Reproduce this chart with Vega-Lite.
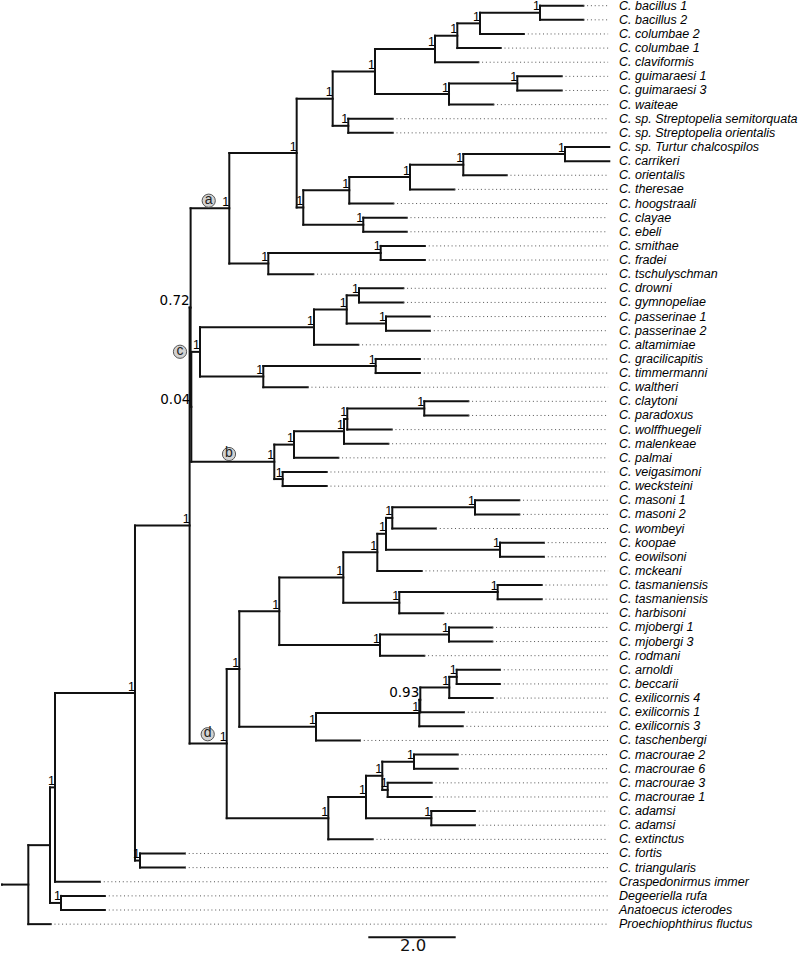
{
  "$schema": "https://vega.github.io/schema/vega-lite/v6.json",
  "width": 798,
  "height": 954,
  "padding": 0,
  "autosize": {"type": "none"},
  "background": "white",
  "config": {"view": {"stroke": null}},
  "datasets": {
    "nodes": [
      {"id": "L0", "parent": "BR", "x": 13.332, "y": 0, "name": "C. bacillus 1"},
      {"id": "L1", "parent": "BR", "x": 13.332, "y": 1, "name": "C. bacillus 2"},
      {"id": "L2", "parent": "BQ", "x": 11.975, "y": 2, "name": "C. columbae 2"},
      {"id": "L3", "parent": "BP", "x": 11.442, "y": 3, "name": "C. columbae 1"},
      {"id": "L4", "parent": "BM", "x": 10.929, "y": 4, "name": "C. claviformis"},
      {"id": "L5", "parent": "BO", "x": 12.838, "y": 5, "name": "C. guimaraesi 1"},
      {"id": "L6", "parent": "BO", "x": 12.838, "y": 6, "name": "C. guimaraesi 3"},
      {"id": "L7", "parent": "BN", "x": 11.272, "y": 7, "name": "C. waiteae"},
      {"id": "L8", "parent": "BL", "x": 8.970, "y": 8, "name": "C. sp. Streptopelia semitorquata"},
      {"id": "L9", "parent": "BL", "x": 8.970, "y": 9, "name": "C. sp. Streptopelia orientalis"},
      {"id": "L10", "parent": "BH", "x": 13.927, "y": 10, "name": "C. sp. Turtur chalcospilos"},
      {"id": "L11", "parent": "BH", "x": 13.927, "y": 11, "name": "C. carrikeri"},
      {"id": "L12", "parent": "BF", "x": 11.579, "y": 12, "name": "C. orientalis"},
      {"id": "L13", "parent": "BG", "x": 10.380, "y": 13, "name": "C. theresae"},
      {"id": "L14", "parent": "BD", "x": 8.984, "y": 14, "name": "C. hoogstraali"},
      {"id": "L15", "parent": "BI", "x": 9.291, "y": 15, "name": "C. clayae"},
      {"id": "L16", "parent": "BI", "x": 9.291, "y": 16, "name": "C. ebeli"},
      {"id": "L17", "parent": "BS", "x": 9.709, "y": 17, "name": "C. smithae"},
      {"id": "L18", "parent": "BS", "x": 9.709, "y": 18, "name": "C. fradei"},
      {"id": "L19", "parent": "BB", "x": 7.153, "y": 19, "name": "C. tschulyschman"},
      {"id": "L20", "parent": "CD", "x": 9.213, "y": 20, "name": "C. drowni"},
      {"id": "L21", "parent": "CD", "x": 9.213, "y": 21, "name": "C. gymnopeliae"},
      {"id": "L22", "parent": "CE", "x": 9.824, "y": 22, "name": "C. passerinae 1"},
      {"id": "L23", "parent": "CE", "x": 9.824, "y": 23, "name": "C. passerinae 2"},
      {"id": "L24", "parent": "CA", "x": 8.183, "y": 24, "name": "C. altamimiae"},
      {"id": "L25", "parent": "CF", "x": 9.595, "y": 25, "name": "C. gracilicapitis"},
      {"id": "L26", "parent": "CF", "x": 9.595, "y": 26, "name": "C. timmermanni"},
      {"id": "L27", "parent": "CB", "x": 7.025, "y": 27, "name": "C. waltheri"},
      {"id": "L28", "parent": "DE", "x": 10.700, "y": 28, "name": "C. claytoni"},
      {"id": "L29", "parent": "DE", "x": 10.700, "y": 29, "name": "C. paradoxus"},
      {"id": "L30", "parent": "DD", "x": 8.947, "y": 30, "name": "C. wolffhuegeli"},
      {"id": "L31", "parent": "DC", "x": 8.870, "y": 31, "name": "C. malenkeae"},
      {"id": "L32", "parent": "DA", "x": 7.725, "y": 32, "name": "C. palmai"},
      {"id": "L33", "parent": "DB", "x": 7.460, "y": 33, "name": "C. veigasimoni"},
      {"id": "L34", "parent": "DB", "x": 7.460, "y": 34, "name": "C. wecksteini"},
      {"id": "L35", "parent": "Z", "x": 11.867, "y": 35, "name": "C. masoni 1"},
      {"id": "L36", "parent": "Z", "x": 11.867, "y": 36, "name": "C. masoni 2"},
      {"id": "L37", "parent": "V", "x": 9.961, "y": 37, "name": "C. wombeyi"},
      {"id": "L38", "parent": "W", "x": 12.432, "y": 38, "name": "C. koopae"},
      {"id": "L39", "parent": "W", "x": 12.432, "y": 39, "name": "C. eowilsoni"},
      {"id": "L40", "parent": "Q", "x": 9.634, "y": 40, "name": "C. mckeani"},
      {"id": "L41", "parent": "S", "x": 12.380, "y": 41, "name": "C. tasmaniensis"},
      {"id": "L42", "parent": "S", "x": 12.380, "y": 42, "name": "C. tasmaniensis"},
      {"id": "L43", "parent": "R", "x": 10.128, "y": 43, "name": "C. harbisoni"},
      {"id": "L44", "parent": "O", "x": 11.249, "y": 44, "name": "C. mjobergi 1"},
      {"id": "L45", "parent": "O", "x": 11.249, "y": 45, "name": "C. mjobergi 3"},
      {"id": "L46", "parent": "N", "x": 9.693, "y": 46, "name": "C. rodmani"},
      {"id": "L47", "parent": "M", "x": 11.426, "y": 47, "name": "C. arnoldi"},
      {"id": "L48", "parent": "M", "x": 11.426, "y": 48, "name": "C. beccarii"},
      {"id": "L49", "parent": "L", "x": 11.259, "y": 49, "name": "C. exilicornis 4"},
      {"id": "L50", "parent": "K2", "x": 10.602, "y": 50, "name": "C. exilicornis 1"},
      {"id": "L51", "parent": "K", "x": 10.572, "y": 51, "name": "C. exilicornis 3"},
      {"id": "L52", "parent": "J", "x": 8.222, "y": 52, "name": "C. taschenbergi"},
      {"id": "L53", "parent": "AD", "x": 10.458, "y": 53, "name": "C. macrourae 2"},
      {"id": "L54", "parent": "AD", "x": 10.458, "y": 54, "name": "C. macrourae 6"},
      {"id": "L55", "parent": "AE", "x": 9.863, "y": 55, "name": "C. macrourae 3"},
      {"id": "L56", "parent": "AE", "x": 9.863, "y": 56, "name": "C. macrourae 1"},
      {"id": "L57", "parent": "AC", "x": 10.854, "y": 57, "name": "C. adamsi"},
      {"id": "L58", "parent": "AC", "x": 10.854, "y": 58, "name": "C. adamsi"},
      {"id": "L59", "parent": "H", "x": 8.513, "y": 59, "name": "C. extinctus"},
      {"id": "L60", "parent": "F", "x": 4.217, "y": 60, "name": "C. fortis"},
      {"id": "L61", "parent": "F", "x": 4.217, "y": 61, "name": "C. triangularis"},
      {"id": "L62", "parent": "B", "x": 2.272, "y": 62, "name": "Craspedonirmus immer"},
      {"id": "L63", "parent": "C", "x": 2.387, "y": 63, "name": "Degeeriella rufa"},
      {"id": "L64", "parent": "C", "x": 2.387, "y": 64, "name": "Anatoecus icterodes"},
      {"id": "L65", "parent": "root", "x": 1.144, "y": 65, "name": "Proechiophthirus fluctus"},
      {"id": "BR", "parent": "BQ", "x": 12.341, "y": 0.5, "sup": 1},
      {"id": "BQ", "parent": "BP", "x": 10.968, "y": 1.25, "sup": 1},
      {"id": "BP", "parent": "BM", "x": 10.449, "y": 2.125, "sup": 1},
      {"id": "BM", "parent": "BK", "x": 9.938, "y": 3.0625, "sup": 1},
      {"id": "BO", "parent": "BN", "x": 11.822, "y": 5.5, "sup": 1},
      {"id": "BN", "parent": "BK", "x": 10.259, "y": 6.25, "sup": 1},
      {"id": "BK", "parent": "BJ", "x": 8.565, "y": 4.656, "sup": 1},
      {"id": "BL", "parent": "BJ", "x": 7.954, "y": 8.5, "sup": 1},
      {"id": "BJ", "parent": "BA", "x": 7.597, "y": 6.578, "sup": 1},
      {"id": "BH", "parent": "BF", "x": 12.913, "y": 10.5, "sup": 1},
      {"id": "BF", "parent": "BG", "x": 10.586, "y": 11.25, "sup": 1},
      {"id": "BG", "parent": "BD", "x": 9.366, "y": 12.125, "sup": 1},
      {"id": "BD", "parent": "BC", "x": 7.977, "y": 13.0625, "sup": 1},
      {"id": "BI", "parent": "BC", "x": 8.297, "y": 15.5, "sup": 1},
      {"id": "BC", "parent": "BA", "x": 6.924, "y": 14.281, "sup": 1},
      {"id": "BA", "parent": "a", "x": 6.773, "y": 10.43, "sup": 1},
      {"id": "BS", "parent": "BB", "x": 8.696, "y": 17.5, "sup": 1},
      {"id": "BB", "parent": "a", "x": 6.124, "y": 18.25, "sup": 1},
      {"id": "a", "parent": "X", "x": 5.231, "y": 14.34, "sup": 1},
      {"id": "CD", "parent": "CC", "x": 8.199, "y": 20.5, "sup": 1},
      {"id": "CE", "parent": "CC", "x": 8.817, "y": 22.5, "sup": 1},
      {"id": "CC", "parent": "CA", "x": 7.918, "y": 21.5, "sup": 1},
      {"id": "CA", "parent": "c", "x": 7.169, "y": 22.75, "sup": 1},
      {"id": "CF", "parent": "CB", "x": 8.581, "y": 25.5, "sup": 1},
      {"id": "CB", "parent": "c", "x": 6.009, "y": 26.25, "sup": 1},
      {"id": "c", "parent": "Y", "x": 4.561, "y": 24.5, "sup": 1},
      {"id": "DE", "parent": "DD", "x": 9.693, "y": 28.5, "sup": 1},
      {"id": "DD", "parent": "DC", "x": 7.931, "y": 29.25, "sup": 1},
      {"id": "DC", "parent": "DA", "x": 7.856, "y": 30.125, "sup": 1},
      {"id": "DA", "parent": "b", "x": 6.712, "y": 31.0625, "sup": 1},
      {"id": "DB", "parent": "b", "x": 6.453, "y": 33.5, "sup": 1},
      {"id": "b", "parent": "Y", "x": 6.261, "y": 32.28, "sup": 1},
      {"id": "Y", "parent": "X", "x": 4.362, "y": 28.39, "sup": 0.04},
      {"id": "X", "parent": "E", "x": 4.346, "y": 21.365, "sup": 0.72},
      {"id": "Z", "parent": "V", "x": 10.854, "y": 35.5, "sup": 1},
      {"id": "V", "parent": "U", "x": 8.961, "y": 36.25, "sup": 1},
      {"id": "W", "parent": "U", "x": 11.426, "y": 38.5, "sup": 1},
      {"id": "U", "parent": "Q", "x": 8.817, "y": 37.375, "sup": 1},
      {"id": "Q", "parent": "P", "x": 8.618, "y": 38.6875, "sup": 1},
      {"id": "S", "parent": "R", "x": 11.373, "y": 41.5, "sup": 1},
      {"id": "R", "parent": "P", "x": 9.121, "y": 42.25, "sup": 1},
      {"id": "P", "parent": "I", "x": 7.840, "y": 40.469, "sup": 1},
      {"id": "O", "parent": "N", "x": 10.259, "y": 44.5, "sup": 1},
      {"id": "N", "parent": "I", "x": 8.680, "y": 45.25, "sup": 1},
      {"id": "I", "parent": "G", "x": 6.375, "y": 42.86, "sup": 1},
      {"id": "M", "parent": "L", "x": 10.435, "y": 47.5, "sup": 1},
      {"id": "L", "parent": "K2", "x": 10.265, "y": 48.25, "sup": 1},
      {"id": "K2", "parent": "K", "x": 9.602, "y": 49.125, "sup": 0.93},
      {"id": "K", "parent": "J", "x": 9.579, "y": 50.0625, "sup": 1},
      {"id": "J", "parent": "G", "x": 7.215, "y": 51.03, "sup": 1},
      {"id": "G", "parent": "d", "x": 5.460, "y": 46.945, "sup": 1},
      {"id": "AD", "parent": "AB", "x": 9.458, "y": 53.5, "sup": 1},
      {"id": "AE", "parent": "AB", "x": 8.856, "y": 55.5, "sup": 1},
      {"id": "AB", "parent": "AA", "x": 8.732, "y": 54.5, "sup": 1},
      {"id": "AC", "parent": "AA", "x": 9.854, "y": 57.5, "sup": 1},
      {"id": "AA", "parent": "H", "x": 8.359, "y": 56, "sup": 1},
      {"id": "H", "parent": "d", "x": 7.497, "y": 57.5, "sup": 1},
      {"id": "d", "parent": "E", "x": 5.172, "y": 52.22, "sup": 1},
      {"id": "E", "parent": "D", "x": 4.323, "y": 36.79, "sup": 1},
      {"id": "F", "parent": "D", "x": 3.188, "y": 60.5, "sup": 1},
      {"id": "D", "parent": "B", "x": 3.073, "y": 48.65, "sup": 1},
      {"id": "B", "parent": "A", "x": 1.243, "y": 55.32, "sup": 1},
      {"id": "C", "parent": "A", "x": 1.380, "y": 63.5, "sup": 1},
      {"id": "A", "parent": "root", "x": 1.128, "y": 59.41},
      {"id": "root", "parent": "origin", "x": 0.632, "y": 62.2},
      {"id": "origin", "parent": null, "x": 0.03, "y": 62.2}
    ],
    "clades": [
      {"clade": "a", "x": 4.760, "y": 13.80},
      {"clade": "b", "x": 5.224, "y": 31.73},
      {"clade": "c", "x": 4.103, "y": 24.49},
      {"clade": "d", "x": 4.737, "y": 51.56}
    ],
    "scalebar": [
      {"x": 8.412, "x2": 10.412, "y": 65.93, "xm": 9.44, "ty": 66.9, "label": "2.0"}
    ]
  },
  "layer": [
    {
      "data": {"name": "nodes"},
      "transform": [
        {"filter": "datum.parent != null"},
        {"lookup": "parent", "from": {"data": {"name": "nodes"}, "key": "id", "fields": ["x"]}, "as": ["px"]}
      ],
      "mark": {"type": "rule", "color": "#111111", "strokeWidth": 2, "strokeCap": "square"},
      "encoding": {
        "x": {"field": "px", "type": "quantitative", "scale": {"domain": [-0.016, 18.245], "nice": false, "zero": false}, "axis": null},
        "x2": {"field": "x"},
        "y": {"field": "y", "type": "quantitative", "scale": {"domain": [-0.4034, 67.113], "nice": false, "zero": false, "reverse": true}, "axis": null}
      }
    },
    {
      "data": {"name": "nodes"},
      "transform": [
        {"filter": "datum.parent != null"},
        {"aggregate": [{"op": "min", "field": "y", "as": "y1"}, {"op": "max", "field": "y", "as": "y2"}], "groupby": ["parent"]},
        {"lookup": "parent", "from": {"data": {"name": "nodes"}, "key": "id", "fields": ["x"]}, "as": ["px"]}
      ],
      "mark": {"type": "rule", "color": "#111111", "strokeWidth": 2, "strokeCap": "square"},
      "encoding": {
        "x": {"field": "px", "type": "quantitative", "scale": {"domain": [-0.016, 18.245], "nice": false, "zero": false}, "axis": null},
        "y": {"field": "y1", "type": "quantitative", "scale": {"domain": [-0.4034, 67.113], "nice": false, "zero": false, "reverse": true}, "axis": null},
        "y2": {"field": "y2"}
      }
    },
    {
      "data": {"name": "nodes"},
      "transform": [
        {"filter": "isValid(datum.name) && datum.x < 13.85"}
      ],
      "mark": {"type": "rule", "color": "#555555", "strokeWidth": 1, "strokeDash": [1, 2.8]},
      "encoding": {
        "x": {"field": "x", "type": "quantitative", "scale": {"domain": [-0.016, 18.245], "nice": false, "zero": false}, "axis": null},
        "x2": {"datum": 13.9},
        "y": {"field": "y", "type": "quantitative", "scale": {"domain": [-0.4034, 67.113], "nice": false, "zero": false, "reverse": true}, "axis": null}
      }
    },
    {
      "data": {"name": "nodes"},
      "transform": [{"filter": "isValid(datum.name)"}],
      "mark": {"type": "text", "align": "left", "baseline": "middle", "font": "Liberation Sans", "fontStyle": "italic", "fontSize": 12.5, "color": "#000000"},
      "encoding": {
        "x": {"datum": 14.149, "type": "quantitative", "scale": {"domain": [-0.016, 18.245], "nice": false, "zero": false}, "axis": null},
        "y": {"field": "y", "type": "quantitative", "scale": {"domain": [-0.4034, 67.113], "nice": false, "zero": false, "reverse": true}, "axis": null},
        "text": {"field": "name"}
      }
    },
    {
      "data": {"name": "nodes"},
      "transform": [{"filter": "datum.sup == 1"}],
      "mark": {"type": "text", "align": "right", "baseline": "alphabetic", "dy": -2.5, "font": "Liberation Sans", "fontSize": 12.5, "color": "#000000"},
      "encoding": {
        "x": {"field": "x", "type": "quantitative", "scale": {"domain": [-0.016, 18.245], "nice": false, "zero": false}, "axis": null},
        "y": {"field": "y", "type": "quantitative", "scale": {"domain": [-0.4034, 67.113], "nice": false, "zero": false, "reverse": true}, "axis": null},
        "text": {"field": "sup", "type": "quantitative", "format": "d"}
      }
    },
    {
      "data": {"name": "nodes"},
      "transform": [{"filter": "isValid(datum.sup) && datum.sup < 1"}],
      "mark": {"type": "text", "align": "right", "baseline": "alphabetic", "dy": -2.5, "dx": -1, "font": "DejaVu Sans", "fontSize": 13.5, "color": "#000000"},
      "encoding": {
        "x": {"field": "x", "type": "quantitative", "scale": {"domain": [-0.016, 18.245], "nice": false, "zero": false}, "axis": null},
        "y": {"field": "y", "type": "quantitative", "scale": {"domain": [-0.4034, 67.113], "nice": false, "zero": false, "reverse": true}, "axis": null},
        "text": {"field": "sup", "type": "quantitative", "format": ".2f"}
      }
    },
    {
      "data": {"name": "clades"},
      "mark": {"type": "circle", "size": 175, "fill": "#d2d2d2", "stroke": "#555555", "strokeWidth": 1, "opacity": 1},
      "encoding": {
        "x": {"field": "x", "type": "quantitative", "scale": {"domain": [-0.016, 18.245], "nice": false, "zero": false}, "axis": null},
        "y": {"field": "y", "type": "quantitative", "scale": {"domain": [-0.4034, 67.113], "nice": false, "zero": false, "reverse": true}, "axis": null}
      }
    },
    {
      "data": {"name": "clades"},
      "mark": {"type": "text", "align": "center", "baseline": "middle", "dy": -1, "font": "Liberation Sans", "fontSize": 14, "color": "#222222"},
      "encoding": {
        "x": {"field": "x", "type": "quantitative", "scale": {"domain": [-0.016, 18.245], "nice": false, "zero": false}, "axis": null},
        "y": {"field": "y", "type": "quantitative", "scale": {"domain": [-0.4034, 67.113], "nice": false, "zero": false, "reverse": true}, "axis": null},
        "text": {"field": "clade"}
      }
    },
    {
      "data": {"name": "scalebar"},
      "mark": {"type": "rule", "color": "#111111", "strokeWidth": 2},
      "encoding": {
        "x": {"field": "x", "type": "quantitative", "scale": {"domain": [-0.016, 18.245], "nice": false, "zero": false}, "axis": null},
        "x2": {"field": "x2"},
        "y": {"field": "y", "type": "quantitative", "scale": {"domain": [-0.4034, 67.113], "nice": false, "zero": false, "reverse": true}, "axis": null}
      }
    },
    {
      "data": {"name": "scalebar"},
      "mark": {"type": "text", "align": "center", "baseline": "alphabetic", "font": "DejaVu Sans", "fontSize": 16.5, "color": "#111111"},
      "encoding": {
        "x": {"field": "xm", "type": "quantitative", "scale": {"domain": [-0.016, 18.245], "nice": false, "zero": false}, "axis": null},
        "y": {"field": "ty", "type": "quantitative", "scale": {"domain": [-0.4034, 67.113], "nice": false, "zero": false, "reverse": true}, "axis": null},
        "text": {"field": "label"}
      }
    }
  ]
}
